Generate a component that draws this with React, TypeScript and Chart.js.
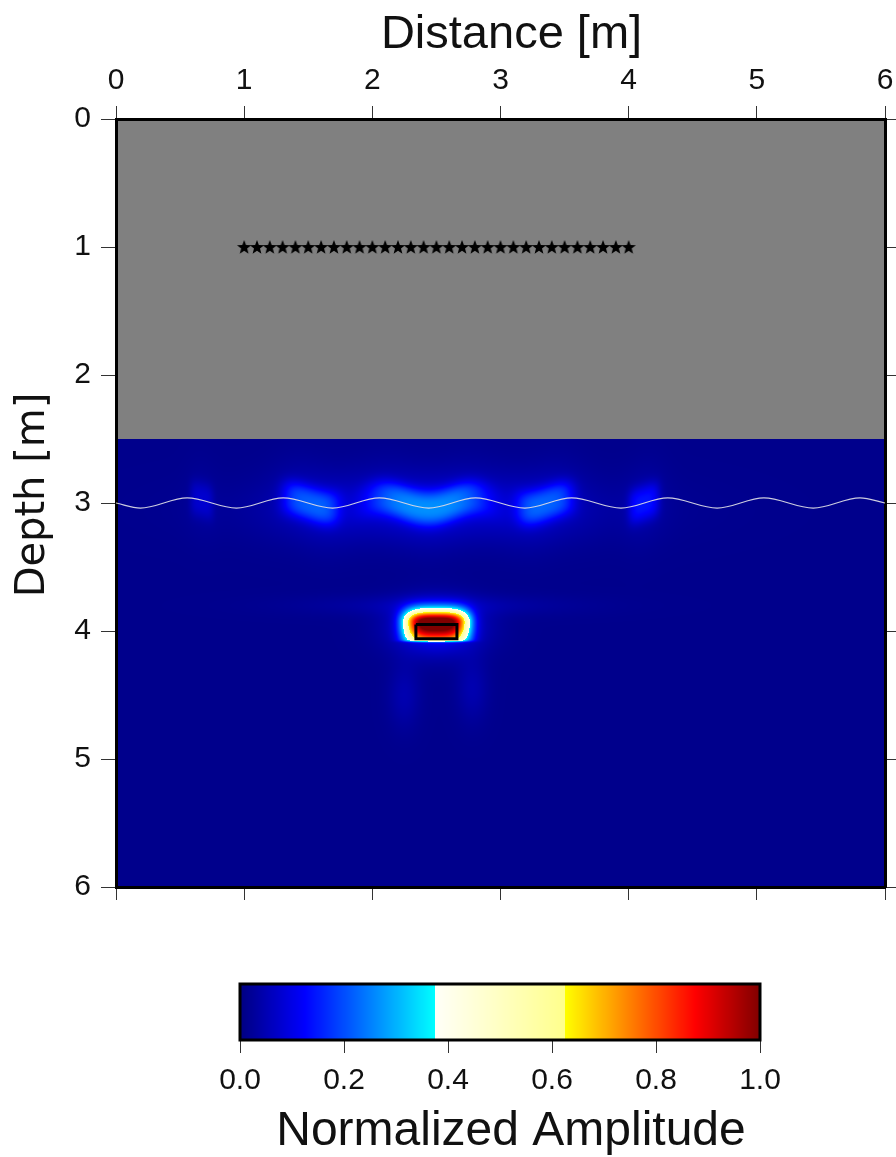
import { useEffect, useRef } from 'react';
import { Chart, registerables } from 'chart.js';

Chart.register(...registerables);

// ---- receivers (stars) along the survey line ----
const receiverX = [
  1.0, 1.1, 1.2, 1.3, 1.4, 1.5, 1.6, 1.7, 1.8, 1.9, 2.0, 2.1, 2.2, 2.3, 2.4, 2.5,
  2.6, 2.7, 2.8, 2.9, 3.0, 3.1, 3.2, 3.3, 3.4, 3.5, 3.6, 3.7, 3.8, 3.9, 4.0,
];
const receiverDepth = 1.0;

// ---- wavy interface (crests and troughs) ----
const interfaceX = [
  0, 0.19, 0.555, 0.94, 1.305, 1.69, 2.055, 2.44, 2.805, 3.19, 3.555, 3.94, 4.305,
  4.69, 5.055, 5.44, 5.805, 6.0,
];
const interfaceDepth = [
  3.0, 3.04, 2.96, 3.04, 2.96, 3.04, 2.96, 3.04, 2.96, 3.04, 2.96, 3.04, 2.96, 3.04,
  2.96, 3.04, 2.96, 3.0,
];

// ---- buried target outline ----
const targetBoxX = [2.34, 2.66, 2.66, 2.34, 2.34];
const targetBoxDepth = [3.95, 3.95, 4.06, 4.06, 3.95];

// ---- upper homogeneous layer ----
const layerTop = 0;
const layerBottom = 2.5;

// ---- reflected amplitude along the interface ----
const reflCenter = [0.67, 1.52, 2.43, 3.35, 4.12];
const reflHalfWidth = [0.09, 0.22, 0.46, 0.22, 0.12];
const reflAmp = [0.05, 0.145, 0.17, 0.145, 0.1];

// ---- target response ----
const targetCenterX = 2.5;
const targetCenterDepth = 3.93;
const targetPeak = 0.95;
const targetHalfWidth = 0.25;
const targetTopSpread = 0.096;
const targetBottomSpread = 0.2;
const targetBase = 4.082;

// ---- weak scattered energy ----
const hazeX = [2.5, 2.5, 2.5, 2.25, 2.78];
const hazeDepth = [3.05, 3.97, 3.8, 4.5, 4.45];
const hazeSx = [1.3, 0.33, 1.0, 0.12, 0.12];
const hazeSz = [0.25, 0.2, 0.08, 0.25, 0.25];
const hazeAmp = [0.05, 0.14, 0.03, 0.035, 0.035];
const backgroundLevel = 0.012;

// ---- colour map ----
const cmapStops = [0, 0.125, 0.375, 0.375, 0.625, 0.625, 0.875, 1];
const cmapColors = [
  [0, 0, 128],
  [0, 0, 255],
  [0, 255, 255],
  [255, 255, 248],
  [255, 255, 140],
  [255, 255, 0],
  [255, 0, 0],
  [128, 0, 0],
];
const colorbarTicks = [0, 0.2, 0.4, 0.6, 0.8, 1.0];

function colorAt(v: number): number[] {
  for (let i = 0; i < cmapStops.length - 1; i++) {
    const a = cmapStops[i];
    const b = cmapStops[i + 1];
    if (b > a && v <= b) {
      const t = Math.max(0, (v - a) / (b - a));
      const c0 = cmapColors[i];
      const c1 = cmapColors[i + 1];
      return [c0[0] + (c1[0] - c0[0]) * t, c0[1] + (c1[1] - c0[1]) * t, c0[2] + (c1[2] - c0[2]) * t];
    }
  }
  return cmapColors[cmapColors.length - 1];
}

function interfaceAt(x: number): number {
  for (let i = 0; i < interfaceX.length - 1; i++) {
    if (x <= interfaceX[i + 1]) {
      const t = Math.min(1, Math.max(0, (x - interfaceX[i]) / (interfaceX[i + 1] - interfaceX[i])));
      const s = (1 - Math.cos(Math.PI * t)) / 2;
      return interfaceDepth[i] + (interfaceDepth[i + 1] - interfaceDepth[i]) * s;
    }
  }
  return interfaceDepth[interfaceDepth.length - 1];
}

function fieldAt(x: number, d: number, zi: number): number {
  let v = backgroundLevel;
  const dz = Math.abs(d - zi);
  const band = Math.exp(-Math.pow(dz / 0.14, 3));
  const glow = Math.exp(-Math.pow(dz / 0.3, 2));
  for (let i = 0; i < reflCenter.length; i++) {
    const ax = Math.abs(x - reflCenter[i]) / reflHalfWidth[i];
    v += reflAmp[i] * (Math.exp(-Math.pow(ax, 4)) * band + 0.2 * Math.exp(-Math.pow(ax / 1.4, 2)) * glow);
  }
  for (let i = 0; i < hazeX.length; i++) {
    const gx = (x - hazeX[i]) / hazeSx[i];
    const gz = (d - hazeDepth[i]) / hazeSz[i];
    v += hazeAmp[i] * Math.exp(-gx * gx - gz * gz);
  }
  const tx = Math.abs(x - targetCenterX) / targetHalfWidth;
  const tz =
    d < targetCenterDepth
      ? (targetCenterDepth - d) / targetTopSpread
      : (d - targetCenterDepth) / targetBottomSpread;
  const cut = 1 / (1 + Math.exp((d - targetBase) / 0.005));
  v += targetPeak * Math.exp(-Math.pow(tx, 4)) * Math.exp(-tz * tz) * cut;
  return Math.min(1, Math.max(0, v));
}

function makeStar(size: number): HTMLCanvasElement {
  const c = document.createElement('canvas');
  c.width = size;
  c.height = size;
  const g = c.getContext('2d')!;
  const R = size / 2 - 0.5;
  const r = R * 0.42;
  const cx = size / 2;
  const cy = size / 2 + 0.6;
  g.fillStyle = '#000';
  g.beginPath();
  for (let k = 0; k < 10; k++) {
    const ang = -Math.PI / 2 + (k * Math.PI) / 5;
    const rad = k % 2 ? r : R;
    const px = cx + rad * Math.cos(ang);
    const py = cy + rad * Math.sin(ang);
    if (k === 0) g.moveTo(px, py);
    else g.lineTo(px, py);
  }
  g.closePath();
  g.fill();
  return c;
}

const SANS = "'Liberation Sans', Arial, sans-serif";
const WIDE = "'DejaVu Sans', sans-serif";
const INK = '#111';

const fieldPlugin = {
  id: 'amplitudeField',
  beforeDraw(chart: any) {
    const { ctx, chartArea: a, scales } = chart;
    const xs = scales.x;
    const ys = scales.y;
    const yLayerTop = ys.getPixelForValue(layerTop);
    const yLayerBottom = Math.round(ys.getPixelForValue(layerBottom));
    ctx.save();
    ctx.fillStyle = '#808080';
    ctx.fillRect(a.left, yLayerTop, a.right - a.left, yLayerBottom - yLayerTop);
    const left = Math.round(a.left);
    const w = Math.round(a.right) - left;
    const h = Math.round(a.bottom) - yLayerBottom;
    const img = ctx.createImageData(w, h);
    const colX: number[] = [];
    const colZ: number[] = [];
    for (let px = 0; px < w; px++) {
      const x = xs.getValueForPixel(left + px + 0.5);
      colX.push(x);
      colZ.push(interfaceAt(x));
    }
    for (let py = 0; py < h; py++) {
      const d = ys.getValueForPixel(yLayerBottom + py + 0.5);
      for (let px = 0; px < w; px++) {
        const c = colorAt(fieldAt(colX[px], d, colZ[px]));
        const o = (py * w + px) * 4;
        img.data[o] = c[0];
        img.data[o + 1] = c[1];
        img.data[o + 2] = c[2];
        img.data[o + 3] = 255;
      }
    }
    ctx.putImageData(img, left, yLayerBottom);
    ctx.restore();
  },
  afterDraw(chart: any) {
    // axis titles
    const { ctx, chartArea: a } = chart;
    ctx.save();
    ctx.fillStyle = INK;
    ctx.textBaseline = 'alphabetic';
    ctx.textAlign = 'center';
    ctx.font = `47px ${SANS}`;
    ctx.fillText('Distance [m]', (a.left + a.right) / 2 + 11, 48);
    ctx.translate(44, (a.top + a.bottom) / 2 - 8);
    ctx.rotate(-Math.PI / 2);
    ctx.font = `40px ${WIDE}`;
    ctx.fillText('Depth [m]', 0, 0);
    ctx.restore();
  },
};

const colorbarPlugin = {
  id: 'colorbarFill',
  beforeDraw(chart: any) {
    const { ctx, chartArea: a, scales } = chart;
    const xs = scales.x;
    ctx.save();
    for (let px = Math.floor(a.left); px < Math.ceil(a.right); px++) {
      const c = colorAt(xs.getValueForPixel(px + 0.5));
      ctx.fillStyle = `rgb(${Math.round(c[0])},${Math.round(c[1])},${Math.round(c[2])})`;
      ctx.fillRect(px, a.top, 1, a.bottom - a.top);
    }
    ctx.restore();
  },
  afterDraw(chart: any) {
    const { ctx, chartArea: a } = chart;
    ctx.save();
    ctx.strokeStyle = '#000';
    ctx.lineWidth = 3;
    ctx.strokeRect(a.left, a.top, a.right - a.left, a.bottom - a.top);
    ctx.fillStyle = INK;
    ctx.textAlign = 'center';
    ctx.textBaseline = 'alphabetic';
    ctx.font = `48px ${SANS}`;
    ctx.fillText('Normalized Amplitude', (a.left + a.right) / 2 + 11, 185);
    ctx.restore();
  },
};

function tickGrid(len: number) {
  return { drawOnChartArea: false, drawTicks: true, tickLength: len, color: '#333', lineWidth: 1 };
}
const frame = { display: true, color: '#000', width: 3 };
const noSidePadding = (s: any) => {
  s.paddingLeft = 0;
  s.paddingRight = 0;
};

export default function App() {
  const mainRef = useRef<HTMLCanvasElement>(null);
  const barRef = useRef<HTMLCanvasElement>(null);

  useEffect(() => {
    const star = makeStar(16);
    const main = new Chart(mainRef.current!, {
      type: 'scatter',
      data: {
        datasets: [
          {
            label: 'Receivers',
            data: receiverX.map((x) => ({ x, y: receiverDepth })),
            pointStyle: star as any,
            pointRadius: 8,
            showLine: false,
          },
          {
            label: 'Target',
            data: targetBoxX.map((x, i) => ({ x, y: targetBoxDepth[i] })),
            showLine: true,
            borderColor: '#000',
            borderWidth: 3,
            borderJoinStyle: 'miter',
            pointRadius: 0,
            tension: 0,
          },
          {
            label: 'Interface',
            data: interfaceX.map((x, i) => ({ x, y: interfaceDepth[i] })),
            showLine: true,
            borderColor: 'rgba(215,215,228,0.95)',
            borderWidth: 1.2,
            pointRadius: 0,
            cubicInterpolationMode: 'monotone',
          },
        ],
      },
      options: {
        responsive: false,
        animation: false,
        devicePixelRatio: 1,
        events: [],
        layout: { padding: 0 },
        plugins: { legend: { display: false }, tooltip: { enabled: false } },
        scales: {
          x: {
            type: 'linear',
            position: 'top',
            min: 0,
            max: 6,
            ticks: { stepSize: 1, color: INK, padding: 7, font: { family: SANS, size: 30 } },
            grid: tickGrid(13),
            border: frame,
            afterFit: (s: any) => {
              s.height = 119;
              noSidePadding(s);
            },
          },
          x2: {
            type: 'linear',
            position: 'bottom',
            min: 0,
            max: 6,
            ticks: { stepSize: 1, display: false },
            grid: tickGrid(13),
            border: frame,
            afterFit: (s: any) => {
              s.height = 73;
              noSidePadding(s);
            },
          },
          y: {
            type: 'linear',
            position: 'left',
            reverse: true,
            min: 0,
            max: 6,
            ticks: { stepSize: 1, color: INK, padding: 10, font: { family: SANS, size: 30 } },
            grid: tickGrid(15),
            border: frame,
            afterFit: (s: any) => {
              s.width = 116;
              s.paddingTop = 0;
              s.paddingBottom = 0;
            },
          },
          y2: {
            type: 'linear',
            position: 'right',
            reverse: true,
            min: 0,
            max: 6,
            ticks: { stepSize: 1, display: false },
            grid: tickGrid(12),
            border: frame,
            afterFit: (s: any) => {
              s.width = 11;
              s.paddingTop = 0;
              s.paddingBottom = 0;
            },
          },
        },
      } as any,
      plugins: [fieldPlugin],
    });

    const bar = new Chart(barRef.current!, {
      type: 'scatter',
      data: { datasets: [] },
      options: {
        responsive: false,
        animation: false,
        devicePixelRatio: 1,
        events: [],
        layout: { padding: { left: 240, right: 136, top: 24, bottom: 0 } },
        plugins: { legend: { display: false }, tooltip: { enabled: false } },
        scales: {
          x: {
            type: 'linear',
            position: 'bottom',
            min: 0,
            max: 1,
            afterBuildTicks: (s: any) => {
              s.ticks = colorbarTicks.map((value) => ({ value }));
            },
            ticks: {
              color: INK,
              padding: 10,
              font: { family: SANS, size: 30 },
              callback: (v: any) => Number(v).toFixed(1),
            },
            grid: tickGrid(13),
            border: { display: false },
            afterFit: (s: any) => {
              s.height = 117;
              noSidePadding(s);
            },
          },
          y: { display: false, min: 0, max: 1 },
        },
      } as any,
      plugins: [colorbarPlugin],
    });

    return () => {
      main.destroy();
      bar.destroy();
    };
  }, []);

  return (
    <div style={{ position: 'absolute', left: 0, top: 0, width: 896, height: 1157, background: '#fff' }}>
      <canvas ref={mainRef} width={896} height={960} style={{ position: 'absolute', left: 0, top: 0 }} />
      <canvas ref={barRef} width={896} height={197} style={{ position: 'absolute', left: 0, top: 960 }} />
    </div>
  );
}
